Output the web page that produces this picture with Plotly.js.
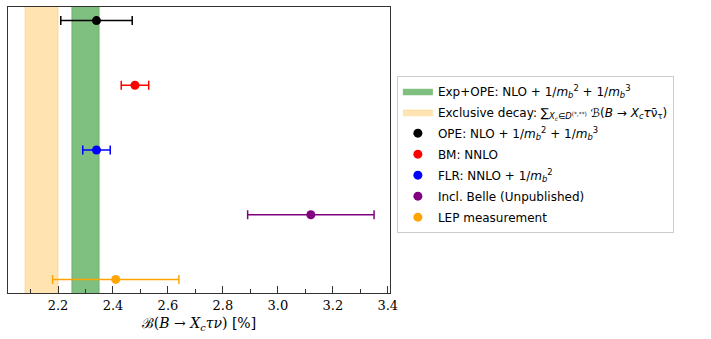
<!DOCTYPE html>
<html>
<head>
<meta charset="utf-8">
<script src="https://cdn.plot.ly/plotly-3.0.1.min.js"></script>
<style>body{margin:0;background:#fff}</style>
</head>
<body>
<div id="chart" style="width:711px;height:339px"></div>
<script>
// measurements (central value, lower error, upper error), in %
var names = ["OPE: NLO + 1/<i>m</i><sub><i>b</i></sub><sup>2</sup> + 1/<i>m</i><sub><i>b</i></sub><sup>3</sup>",
  "BM: NNLO",
  "FLR: NNLO + 1/<i>m</i><sub><i>b</i></sub><sup>2</sup>",
  "Incl. Belle (Unpublished)",
  "LEP measurement"];
var centers = [2.34, 2.48, 2.34, 3.12, 2.41];
var errMinus = [0.13, 0.05, 0.05, 0.23, 0.23];
var errPlus = [0.13, 0.05, 0.05, 0.23, 0.23];
var rows = [4, 3, 2, 1, 0];
var colors = ["black", "red", "blue", "purple", "orange"];

// bands
var greenBand = [2.25, 2.35];
var orangeBand = [2.08, 2.20];

function band(lim, name, fill, line, grp) {
  return {
    x: [lim[0], lim[1], lim[1], lim[0], lim[0]],
    y: [-1, -1, 5, 5, -1],
    type: "scatter",
    mode: "lines",
    fill: "toself",
    fillcolor: fill,
    line: { color: line, width: 1 },
    name: name,
    legendgroup: grp,
    hoverinfo: "skip"
  };
}

var data = [
  band(greenBand, "Exp+OPE: NLO + 1/<i>m</i><sub><i>b</i></sub><sup>2</sup> + 1/<i>m</i><sub><i>b</i></sub><sup>3</sup>", "rgba(0,128,0,0.5)", "rgba(0,128,0,0.3)", "green"),
  band(orangeBand, "Exclusive decay: \u2211<sub><i>X<sub>c</sub></i>\u2208<i>D</i><sup>(*,**)</sup></sub> \u212C(<i>B</i> \u2192 <i>X<sub>c</sub>\u03C4</i>\u03BD\u0304<sub>\u03C4</sub>)", "rgba(255,165,0,0.3)", "rgba(255,165,0,0.3)", "orange")
];

for (var i = 0; i < centers.length; i++) {
  data.push({
    x: [centers[i]],
    y: [rows[i]],
    type: "scatter",
    mode: "markers",
    name: names[i],
    legendgroup: "m" + i,
    marker: { color: colors[i], size: 9 },
    error_x: {
      type: "data",
      symmetric: false,
      array: [errPlus[i]],
      arrayminus: [errMinus[i]],
      color: colors[i],
      thickness: 1.5,
      width: 4.5
    }
  });
}

var layout = {
  width: 711,
  height: 339,
  margin: { l: 8, r: 321, t: 7, b: 46 },
  paper_bgcolor: "white",
  plot_bgcolor: "white",
  font: { family: "DejaVu Sans", size: 12, color: "black" },
  showlegend: true,
  legend: {
    x: 1.018, y: 0.76, xanchor: "left", yanchor: "top",
    bordercolor: "#cccccc", borderwidth: 1,
    font: { family: "DejaVu Sans", size: 12 },
    tracegroupgap: 2
  },
  xaxis: {
    range: [2.018, 3.408],
    dtick: 0.2,
    tickformat: ".1f",
    ticks: "inside",
    ticklen: 7,
    tickcolor: "#333",
    minor: { dtick: 0.1, ticks: "inside", ticklen: 4, tickcolor: "#333" },
    showgrid: false,
    zeroline: false,
    showline: true,
    linecolor: "#333",
    linewidth: 1.2,
    mirror: true,
    tickfont: { family: "DejaVu Serif", size: 13 },
    title: { text: "\u212C(<i>B</i> \u2192 <i>X<sub>c</sub>\u03C4\u03BD</i>) [%]", font: { family: "DejaVu Serif", size: 14 }, standoff: 6 }
  },
  yaxis: {
    range: [-0.21, 4.21],
    showticklabels: false,
    ticks: "",
    showgrid: false,
    zeroline: false,
    showline: true,
    linecolor: "#333",
    linewidth: 1.2,
    mirror: true
  }
};

Plotly.newPlot("chart", data, layout, { displayModeBar: false });
</script>
</body>
</html>
